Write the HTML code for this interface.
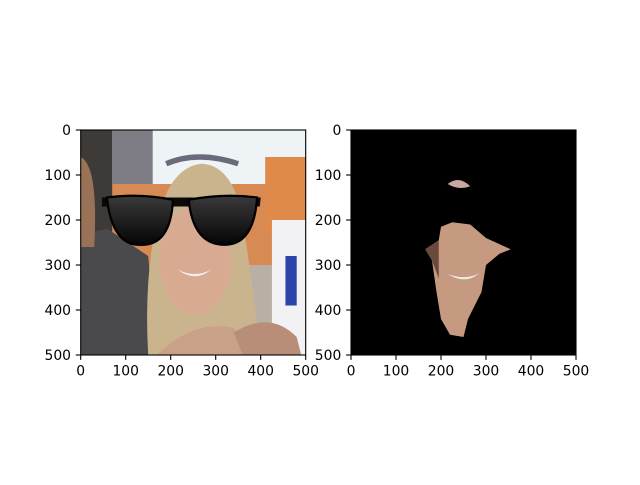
<!DOCTYPE html>
<html><head><meta charset="utf-8"><style>
html,body{margin:0;padding:0;background:#fff;}
svg text{font-family:"DejaVu Sans","Liberation Sans",sans-serif;font-size:13.9px;fill:#000;}
</style></head><body>
<svg id="fig" width="640" height="480" viewBox="0 0 640 480" xmlns="http://www.w3.org/2000/svg">
<defs>
<linearGradient id="lens" x1="0" y1="0" x2="0" y2="1"><stop offset="0" stop-color="#3a3a3a"/><stop offset="1" stop-color="#050505"/></linearGradient>
</defs>
<svg x="80.7" y="130" width="225" height="225" viewBox="0 0 500 500" preserveAspectRatio="none">
<rect width="500" height="500" fill="#b8b0a4"/>
<rect x="0" y="0" width="500" height="140" fill="#eef3f5"/>
<rect x="70" y="0" width="90" height="150" fill="#7e7c84"/>
<rect x="20" y="120" width="480" height="180" fill="#d88a55"/>
<rect x="410" y="60" width="90" height="170" fill="#e08a4a"/>
<rect x="425" y="200" width="75" height="300" fill="#f2f2f4"/>
<rect x="455" y="280" width="25" height="110" fill="#2a44a8"/>
<path d="M0 0 H70 V500 H0 Z" fill="#3e3a38"/>
<path d="M0 230 L60 220 L150 280 L170 500 L0 500 Z" fill="#4a4a4c"/>
<path d="M0 60 Q40 80 30 260 L0 260 Z" fill="#9a7258"/>
<path d="M150 500 Q140 330 170 200 Q200 80 270 75 Q340 80 360 200 Q380 330 400 500 Z" fill="#c9b48e"/>
<ellipse cx="255" cy="290" rx="80" ry="120" fill="#d9aa92"/>
<path d="M170 500 Q250 420 340 440 L380 500 Z" fill="#c9a088"/>
<path d="M340 450 Q420 400 480 460 L490 500 L360 500 Z" fill="#b88e78"/>
<path d="M215 310 Q255 330 290 310 Q255 340 215 310 Z" fill="#f4f0ee"/>
<path d="M47 150 L400 150 L398 170 L47 170 Z" fill="#0c0808"/>
<path d="M58 150 Q130 140 205 155 Q200 260 130 255 Q70 255 58 150 Z" fill="url(#lens)" stroke="#000" stroke-width="5"/>
<path d="M240 155 Q320 140 392 150 Q385 255 320 255 Q250 255 240 155 Z" fill="url(#lens)" stroke="#000" stroke-width="5"/>
<path d="M190 75 Q260 45 350 75" fill="none" stroke="#6a6a7a" stroke-width="12"/>
</svg>
<svg x="351" y="130" width="225" height="225" viewBox="0 0 500 500" preserveAspectRatio="none">
<rect width="500" height="500" fill="#000"/>
<path d="M215 120 Q240 100 265 125 Q240 135 215 120 Z" fill="#c8a8a0"/>
<path d="M165 265 L195 245 L200 215 L225 205 L265 210 L300 240 L355 265 L330 275 L300 300 L290 360 L260 420 L250 460 L220 455 L200 420 L190 360 L180 290 Z" fill="#c69a80"/>
<path d="M215 320 Q255 335 285 318 Q255 345 215 320 Z" fill="#f0e8e4"/>
<path d="M165 265 L195 245 L195 330 L180 290 Z" fill="#6a4a3a"/>
</svg>
<g id="axes"></g>
</svg>
<script>
const xTicks=[0,100,200,300,400,500];
const yTicks=[0,100,200,300,400,500];
const panels=[{name:'left',x0:80.7,x1:305.7},{name:'right',x0:351,x1:576}];
const y0=130,y1=355;
const NS='http://www.w3.org/2000/svg';
const g=document.getElementById('axes');
function mk(t,a){const e=document.createElementNS(NS,t);for(const k in a)e.setAttribute(k,a[k]);g.appendChild(e);return e;}
panels.forEach(p=>{
 const sx=v=>p.x0+(v/500)*(p.x1-p.x0);
 const sy=v=>y0+(v/500)*(y1-y0);
 const fr=mk('rect',{x:p.x0,y:y0,width:p.x1-p.x0,height:y1-y0,fill:'none',stroke:'#000','stroke-width':1.1});
 
 
 xTicks.forEach(v=>{
  const l=mk('line',{x1:sx(v),x2:sx(v),y1:y1,y2:y1+4.9,stroke:'#000','stroke-width':1.1});
  
  
  const t=mk('text',{x:sx(v),y:y1+20.5,'text-anchor':'middle'});t.textContent=v;
  
  
 });
 yTicks.forEach(v=>{
  const l=mk('line',{x1:p.x0-4.9,x2:p.x0,y1:sy(v),y2:sy(v),stroke:'#000','stroke-width':1.1});
  
  
  const t=mk('text',{x:p.x0-9.7,y:sy(v)+5,'text-anchor':'end'});t.textContent=v;
  
  
 });
});
</script>
</body></html>
